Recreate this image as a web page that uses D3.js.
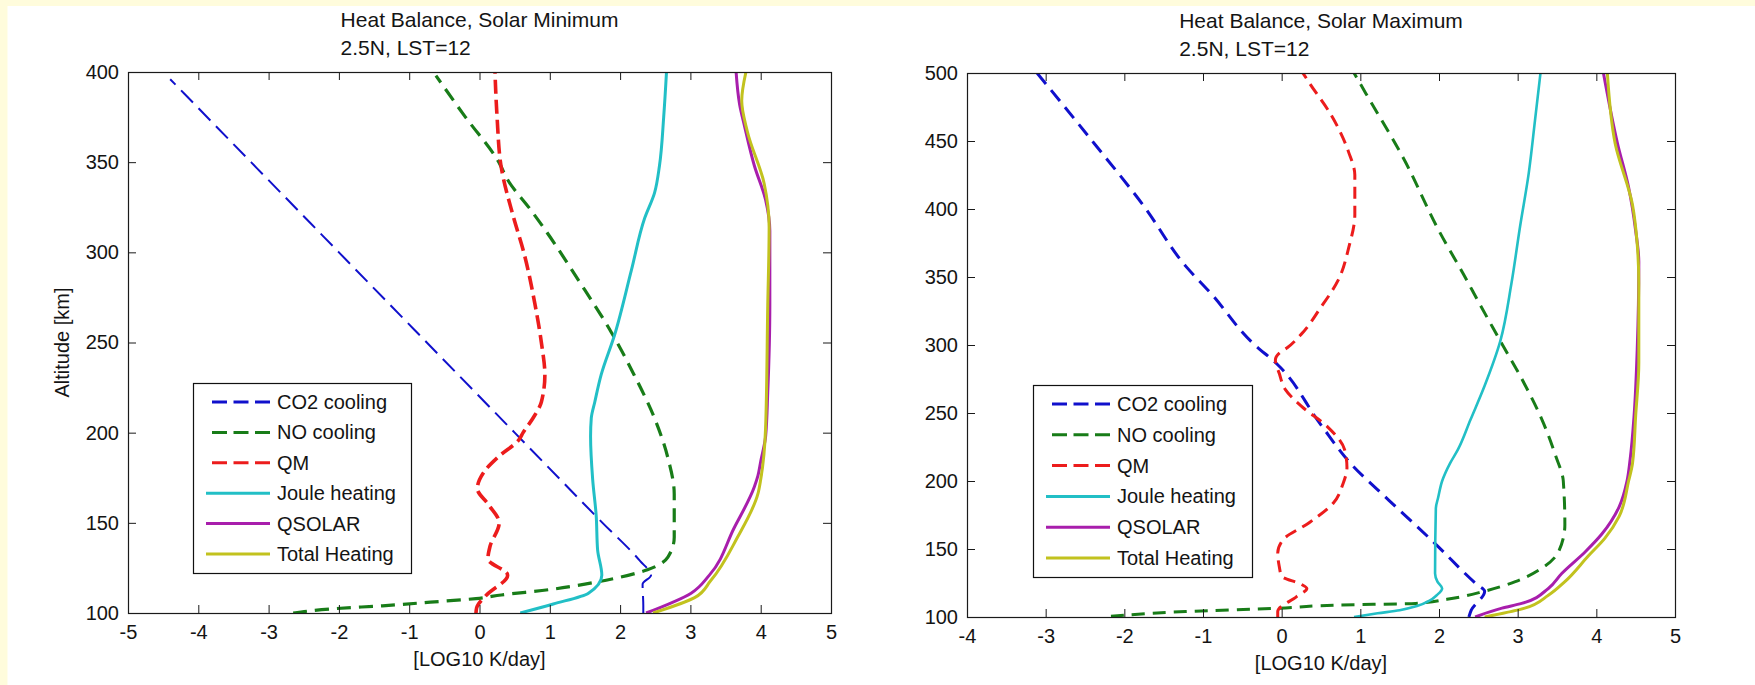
<!DOCTYPE html>
<html>
<head>
<meta charset="utf-8">
<script src="https://cdn.jsdelivr.net/npm/d3@7"></script>
<style>
  html, body { margin: 0; padding: 0; background: #fffcdc; }
  svg { display: block; }
  text { font-family: "Liberation Sans", Arial, sans-serif; fill: #141414; }
</style>
</head>
<body>
<svg id="chart" width="1755" height="685"></svg>
<script>
// ---- Solar minimum profiles: [altitude km, log10 K/day] ----
const minCO2 = [[100,2.33],[104,2.33],[116,2.32],[121,2.44],[129,2.28],[150,1.75],[200,0.50],[250,-0.75],[300,-2.0],[350,-3.25],[380,-4.0],[396,-4.40]];
const minNO = [[100,-2.65],[102.5,-2.03],[104,-1.38],[106,-0.7],[108,-0.05],[110,0.31],[113,1.0],[116,1.5],[119,1.9],[124,2.39],[131,2.68],[142,2.77],[166,2.77],[186,2.68],[208,2.49],[232,2.2],[256,1.87],[285,1.40],[311,0.96],[324,0.72],[339,0.42],[351,0.26],[375,-0.2],[398,-0.62]];
const minQM = [[100,-0.05],[103,-0.04],[110,0.10],[121,0.40],[130,0.12],[137,0.15],[150,0.28],[160,0.13],[169,-0.03],[178,0.06],[187,0.28],[196,0.56],[200,0.62],[208,0.76],[217,0.88],[232,0.93],[250,0.88],[271,0.79],[300,0.63],[320,0.48],[347,0.31],[375,0.25],[400,0.22]];
const minJoule = [[100,0.58],[105,1.05],[111,1.55],[121,1.74],[135,1.68],[154,1.66],[174,1.61],[198,1.58],[208,1.59],[217,1.64],[232,1.73],[254,1.92],[290,2.16],[319,2.35],[333,2.49],[348,2.56],[375,2.62],[400,2.66]];
const minQSolar = [[100,2.37],[111,3.01],[121,3.27],[147,3.62],[170,3.91],[176,3.96],[184,4.0],[198,4.07],[222,4.10],[271,4.13],[312,4.13],[329,4.07],[348,3.91],[370,3.77],[382,3.70],[400,3.65]];
const minTotal = [[100,2.47],[108.5,3.06],[118,3.29],[142,3.67],[166,3.96],[174,4.0],[203,4.07],[270,4.10],[314,4.12],[338,4.05],[367,3.81],[384,3.73],[400,3.79]];

// ---- Solar maximum profiles: [altitude km, log10 K/day] ----
const maxCO2 = [[100,2.38],[105,2.41],[119,2.58],[124,2.48],[154,1.95],[186,1.36],[213,0.875],[242,0.49],[286,-0.06],[301,-0.36],[338,-0.9],[358,-1.22],[402,-1.75],[448,-2.38],[500,-3.11]];
const maxNO = [[100.5,-2.17],[104,-1.22],[106.4,-0.05],[108.8,0.73],[110,1.7],[113,2.1],[119,2.58],[126,2.97],[136,3.31],[148,3.52],[168,3.60],[200,3.58],[219,3.48],[245,3.31],[271,3.09],[306,2.75],[333,2.49],[348,2.35],[385,1.99],[436,1.56],[485,1.07],[500,0.92]];
const maxQM = [[100,-0.05],[104,-0.05],[115,0.19],[121,0.32],[124,0.25],[130,0.0],[137,-0.03],[147,-0.05],[157,0.02],[169,0.34],[184,0.66],[198,0.78],[210,0.83],[223,0.80],[240,0.58],[255,0.25],[267,0.05],[279,-0.03],[289,-0.08],[294,-0.03],[298,0.07],[308,0.25],[327,0.49],[349,0.73],[371,0.85],[396,0.93],[425,0.93],[442,0.85],[469,0.63],[492,0.36],[500,0.27]];
const maxJoule = [[100,0.92],[102.7,1.22],[105,1.5],[108,1.72],[112,1.88],[116,1.97],[121,2.04],[126,1.98],[132,1.95],[180,1.96],[188,1.99],[200,2.04],[213,2.14],[223,2.24],[245,2.40],[270,2.58],[303,2.78],[345,2.92],[387,3.03],[426,3.14],[465,3.22],[500,3.29]];
const maxQSolar = [[100,2.46],[106.5,2.80],[110,3.05],[121,3.39],[132,3.56],[148,3.86],[161,4.07],[181,4.29],[200,4.39],[216,4.43],[248,4.48],[297,4.52],[361,4.54],[384,4.50],[416,4.41],[448,4.27],[500,4.09]];
const maxTotal = [[100,2.58],[106.5,3.09],[116,3.39],[126,3.60],[145,3.90],[158,4.11],[174,4.29],[200,4.41],[213,4.46],[248,4.50],[287,4.54],[345,4.54],[374,4.52],[403,4.46],[448,4.24],[500,4.14]];

// ---- Labels and ticks ----
const seriesNames = ["CO2 cooling", "NO cooling", "QM", "Joule heating", "QSOLAR", "Total Heating"];
const minTitle = ["Heat Balance, Solar Minimum", "2.5N, LST=12"];
const maxTitle = ["Heat Balance, Solar Maximum", "2.5N, LST=12"];
const minXTicks = [-5, -4, -3, -2, -1, 0, 1, 2, 3, 4, 5];
const maxXTicks = [-4, -3, -2, -1, 0, 1, 2, 3, 4, 5];
const minYTicks = [100, 150, 200, 250, 300, 350, 400];
const maxYTicks = [100, 150, 200, 250, 300, 350, 400, 450, 500];
const xLabel = "[LOG10 K/day]";
const yLabel = "Altitude [km]";

const colors = ["#1010cc", "#187c18", "#ec1c1c", "#22bfc6", "#a81eac", "#c2c21e"];

const svg = d3.select("#chart");
// white figure area over the page background
svg.append("rect").attr("x", 7.5).attr("y", 6).attr("width", 1760).attr("height", 690).attr("fill", "#ffffff");

function panel(cfg) {
  const {box, id} = cfg;
  const x = d3.scaleLinear().domain(cfg.xDomain).range([box.x0, box.x1]);
  const y = d3.scaleLinear().domain(cfg.yDomain).range([box.y1, box.y0]);
  const g = svg.append("g");

  g.append("rect").attr("x", box.x0).attr("y", box.y0)
    .attr("width", box.x1 - box.x0).attr("height", box.y1 - box.y0).attr("fill", "#fff");

  g.append("clipPath").attr("id", id).append("rect")
    .attr("x", box.x0).attr("y", box.y0).attr("width", box.x1 - box.x0).attr("height", box.y1 - box.y0);

  const line = d3.line().x(d => x(d[1])).y(d => y(d[0])).curve(d3.curveMonotoneY);
  const plot = g.append("g").attr("clip-path", `url(#${id})`);
  cfg.series.forEach((s, i) => {
    const pts = s.data.slice().sort((a, b) => a[0] - b[0]);
    plot.append("path").attr("d", line(pts))
      .attr("fill", "none").attr("stroke", colors[i])
      .attr("stroke-width", s.width)
      .attr("stroke-dasharray", s.dash || null)
      .attr("stroke-linejoin", "round");
  });

  const fmt = d => String(d);
  const styleAxis = sel => {
    sel.select(".domain").remove();
    sel.selectAll(".tick line").attr("stroke", "#1a1a1a").attr("stroke-width", 1);
    sel.selectAll(".tick text").attr("font-size", 20).attr("fill", "#141414")
      .style("font-family", '"Liberation Sans", Arial, sans-serif');
  };
  g.append("g").attr("transform", `translate(0,${box.y1})`)
    .call(d3.axisBottom(x).tickValues(cfg.xTicks).tickSize(-8).tickSizeOuter(0).tickPadding(12).tickFormat(fmt))
    .call(styleAxis);
  g.append("g").attr("transform", `translate(0,${box.y0})`)
    .call(d3.axisTop(x).tickValues(cfg.xTicks).tickSize(-8).tickSizeOuter(0).tickFormat(""))
    .call(styleAxis);
  g.append("g").attr("transform", `translate(${box.x0},0)`)
    .call(d3.axisLeft(y).tickValues(cfg.yTicks).tickSize(-8).tickSizeOuter(0).tickPadding(9).tickFormat(fmt))
    .call(styleAxis);
  g.append("g").attr("transform", `translate(${box.x1},0)`)
    .call(d3.axisRight(y).tickValues(cfg.yTicks).tickSize(-8).tickSizeOuter(0).tickFormat(""))
    .call(styleAxis);

  g.append("rect").attr("x", box.x0 + 0.5).attr("y", box.y0 + 0.5)
    .attr("width", box.x1 - box.x0).attr("height", box.y1 - box.y0)
    .attr("fill", "none").attr("stroke", "#1a1a1a").attr("stroke-width", 1.2);

  // two-line title, left aligned block centred on the axes
  const cx = (box.x0 + box.x1) / 2;
  const t1 = g.append("text").attr("y", box.y0 - 45).attr("font-size", 21).text(cfg.title[0]);
  const w = t1.node().getComputedTextLength();
  t1.attr("x", cx - w / 2);
  g.append("text").attr("x", cx - w / 2).attr("y", box.y0 - 17).attr("font-size", 21).text(cfg.title[1]);

  g.append("text").attr("x", cx).attr("y", box.y1 + 53).attr("text-anchor", "middle")
    .attr("font-size", 20).text(xLabel);

  if (cfg.showYLabel) {
    g.append("text").attr("transform", `translate(${box.x0 - 59},${(box.y0 + box.y1) / 2}) rotate(-90)`)
      .attr("text-anchor", "middle").attr("font-size", 20).text(yLabel);
  }

  // legend
  const L = cfg.legend;
  const lg = g.append("g");
  lg.append("rect").attr("x", L.x + 0.5).attr("y", L.y + 0.5).attr("width", L.w).attr("height", L.h)
    .attr("fill", "#fff").attr("stroke", "#111").attr("stroke-width", 1.2);
  const step = (L.h - 38) / 5;
  seriesNames.forEach((name, i) => {
    const cy = L.y + 19 + i * step;
    const dashed = i < 3;
    lg.append("line").attr("x1", L.x + (dashed ? 19 : 13)).attr("x2", L.x + 77)
      .attr("y1", cy).attr("y2", cy)
      .attr("stroke", colors[i]).attr("stroke-width", 3)
      .attr("stroke-dasharray", dashed ? "15,6.5" : null);
    lg.append("text").attr("x", L.x + 84).attr("y", cy + 7).attr("font-size", 20).text(name);
  });
}

panel({
  id: "clipMin",
  box: {x0: 128, x1: 831, y0: 72, y1: 613},
  xDomain: [-5, 5], yDomain: [100, 400],
  xTicks: minXTicks, yTicks: minYTicks,
  title: minTitle, showYLabel: true,
  legend: {x: 193, y: 383, w: 218, h: 190},
  series: [
    {data: minCO2, width: 2, dash: "17,8"},
    {data: minNO, width: 3.2, dash: "14,8"},
    {data: minQM, width: 3.6, dash: "14,6"},
    {data: minJoule, width: 3},
    {data: minQSolar, width: 3},
    {data: minTotal, width: 3}
  ]
});

panel({
  id: "clipMax",
  box: {x0: 967, x1: 1675, y0: 73, y1: 617},
  xDomain: [-4, 5], yDomain: [100, 500],
  xTicks: maxXTicks, yTicks: maxYTicks,
  title: maxTitle, showYLabel: false,
  legend: {x: 1033, y: 385, w: 219, h: 192},
  series: [
    {data: maxCO2, width: 3, dash: "14,8"},
    {data: maxNO, width: 3, dash: "13,8"},
    {data: maxQM, width: 3, dash: "12,7"},
    {data: maxJoule, width: 2.6},
    {data: maxQSolar, width: 3},
    {data: maxTotal, width: 3}
  ]
});
</script>
</body>
</html>
